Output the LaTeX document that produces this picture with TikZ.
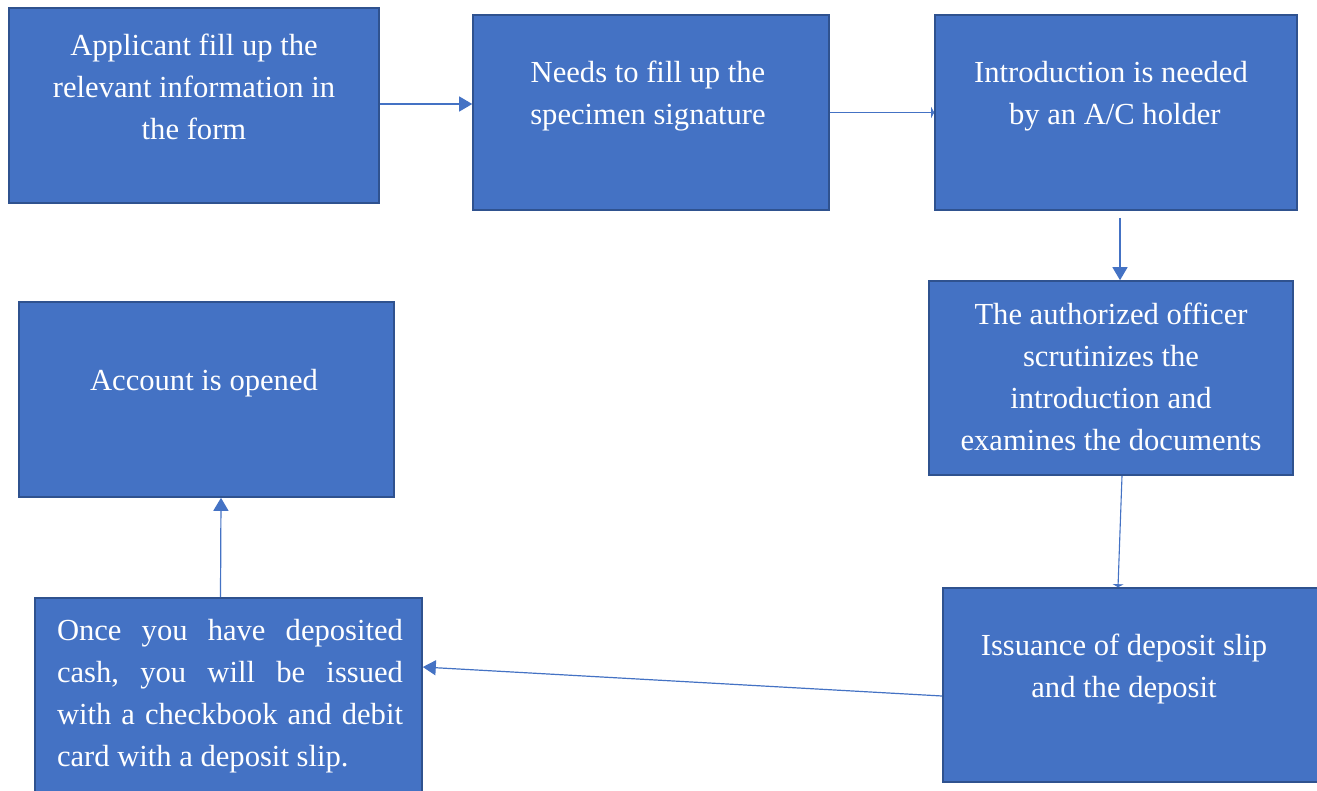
\documentclass[tikz,border=0pt]{standalone}
\usepackage{fontspec}
\setmainfont{Liberation Serif}
\usetikzlibrary{arrows.meta,calc}
\definecolor{boxfill}{HTML}{4472C4}
\definecolor{boxline}{HTML}{2F528F}
\newcommand\jline[1]{\hbox to 346pt{#1}}
\tikzset{
  stepbox/.style={draw=boxline, fill=boxfill, line width=1.6pt, inner sep=0pt},
  boxtext/.style={text=white, align=center, inner sep=0pt,
    font={\fontsize{30.6}{42}\selectfont}},
  flow/.style={draw=boxfill, line width=1.2pt,
    -{Triangle[length=13pt,width=15pt]}},
  thinflow/.style={draw=boxfill, line width=1.1pt,
    -{Triangle[length=3pt,width=11pt]}}
}
\begin{document}
\begin{tikzpicture}[x=1pt,y=-1pt]
\useasboundingbox (0,0) rectangle (1317,790);
\clip (0,0) rectangle (1317,790);
\fill[white] (0,0) rectangle (1317,790);

% process boxes
\node[stepbox, minimum width=370pt, minimum height=195pt] (b1) at (194,105.5) {};
\node[stepbox, minimum width=356pt, minimum height=195pt] (b2) at (651,112.5) {};
\node[stepbox, minimum width=362pt, minimum height=195pt] (b3) at (1116,112.5) {};
\node[stepbox, minimum width=364pt, minimum height=194pt] (b4) at (1111,378) {};
\node[stepbox, minimum width=376pt, minimum height=194pt] (b5) at (1131,685) {};
\node[stepbox, minimum width=387pt, minimum height=200pt] (b6) at (228.5,698) {};
\node[stepbox, minimum width=375pt, minimum height=195pt] (b7) at (206.5,399.5) {};

% box texts
\node[boxtext] (t1) at (194,86.5) {Applicant fill up the\\relevant information in\\the form};
\node[boxtext] (t2) at (648,96) {Needs to fill up the\\specimen signature};
\node[boxtext] (t3) at (1111,96) {Introduction is needed\\\ by an A/C holder};
\node[boxtext] (t4) at (1111,376.5) {The authorized officer\\scrutinizes the\\introduction and\\examines the documents};
\node[boxtext] (t5) at (1124,669) {Issuance of deposit slip\\and the deposit};
\node[boxtext, align=left] (t6) at (230,696) {%
  \jline{Once \hfill you \hfill have \hfill deposited}\\
  \jline{cash, \hfill you \hfill will \hfill be \hfill issued}\\
  \jline{with \hfill a \hfill checkbook \hfill and \hfill debit}\\
  card with a deposit slip.};
\node[boxtext] (t7) at (204,383) {Account is opened};

% connectors
\draw[flow] ($(b1.east)+(0,-1.5)$) -- ($(b2.west)+(0,-8.5)$);
\draw[thinflow] (b2.east) -- (b3.west);
\draw[flow] ($(b3.south)+(4,7)$) -- ($(b4.north)+(9,0)$);
\draw[thinflow] ($(b4.south)+(11,0)$) -- ($(b5.north)+(-13,0)$);
\draw[flow] ($(b5.west)+(0,11)$) -- ($(b6.east)+(0,-31)$);
\draw[flow] ($(b6.north)+(-8,0)$) -- ($(b7.south)+(14.5,0)$);
\end{tikzpicture}
\end{document}
